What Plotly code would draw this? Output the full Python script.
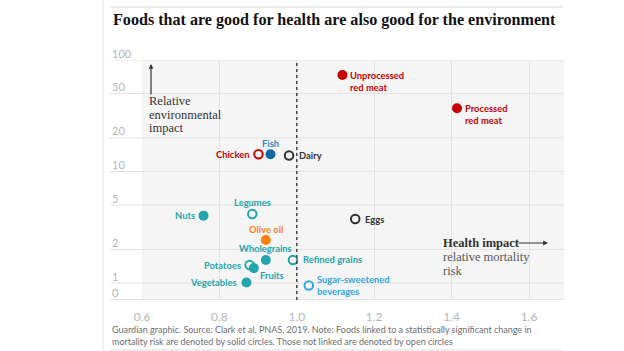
import math
import plotly.graph_objects as go

# ---- data ----
foods = ["Unprocessed<br>red meat", "Processed<br>red meat", "Chicken", "Fish", "Dairy",
         "Legumes", "Nuts", "Eggs", "Olive oil", "Wholegrains", "Refined grains",
         "Potatoes", "Fruits", "Vegetables", "Sugar-sweetened<br>beverages"]
health_risk = [1.118, 1.414, 0.901, 0.932, 0.980, 0.885, 0.759, 1.151, 0.920, 0.920, 0.990,
               0.878, 0.889, 0.870, 1.031]
env_impact = [73.4, 36.9, 14.3, 14.3, 13.9, 4.16, 4.02, 3.75, 2.43, 1.61, 1.61,
              1.45, 1.36, 1.01, 0.95]
significant = [True, True, False, True, False, False, True, False, True, True, False,
               False, True, True, False]
group = ["red", "red", "red", "fish", "grey", "teal", "teal", "grey", "orange", "teal", "teal",
         "teal", "teal", "teal", "blue"]
label_pos = ["right2", "right2", "left", "top", "right", "top", "left", "right", "top", "top",
             "right", "left", "below", "left", "rightmid"]

y_tick_vals = [100, 50, 20, 10, 5, 2, 1, 0.71]
y_tick_text = ["100", "50", "20", "10", "5", "2", "1", "0"]
x_tick_vals = [0.6, 0.8, 1.0, 1.2, 1.4, 1.6]
x_tick_text = ["0.6", "0.8", "1.0", "1.2", "1.4", "1.6"]

# ---- styles ----
colors = {"red": "#c70000", "fish": "#0a6aa1", "grey": "#333333", "teal": "#22a5ad",
          "orange": "#ff7f0f", "blue": "#2ea7df"}
label_colors = {"red": "#c70000", "fish": "#2f86bb", "grey": "#333333", "teal": "#22a5ad",
                "orange": "#ff7f0f", "blue": "#2ea7df"}

W, H = 624, 351
L, R, T, B = 142, 60, 60, 51
PW, PH = W - L - R, H - T - B


def xp(px):
    return (px - L) / PW


def yp(py):
    return (T + PH - py) / PH


fig = go.Figure()

mcol = [colors[g] for g in group]
fill = [c if s else "rgba(0,0,0,0)" for c, s in zip(mcol, significant)]
sizes = [10 if s else 8.5 for s in significant]
lw = [0 if s else 2 for s in significant]

fig.add_trace(go.Scatter(
    x=health_risk, y=env_impact, mode="markers",
    marker=dict(color=fill, size=sizes, opacity=1, line=dict(color=mcol, width=lw)),
    hoverinfo="skip", showlegend=False,
))

lab_font = "Lato"
for name, x, y, g, pos in zip(foods, health_risk, env_impact, group, label_pos):
    a = dict(x=x, y=math.log10(y), xref="x", yref="y", text=name, showarrow=False,
             font=dict(family=lab_font, size=9.4, color=label_colors[g], weight="bold"),
             align="left")
    if pos == "right":
        a.update(xanchor="left", yanchor="middle", xshift=8)
    elif pos == "right2":
        a.update(xanchor="left", yanchor="top", xshift=6, yshift=7)
    elif pos == "rightmid":
        a.update(xanchor="left", yanchor="middle", xshift=6)
    elif pos == "left":
        a.update(xanchor="right", yanchor="middle", xshift=-7, align="right")
    elif pos == "top":
        a.update(xanchor="center", yanchor="middle", yshift=11)
    elif pos == "below":
        a.update(xanchor="left", yanchor="middle", xshift=4, yshift=-7)
    fig.add_annotation(**a)

shapes = []
# horizontal gridlines (extending left past the panel)
for v in y_tick_vals:
    shapes.append(dict(type="line", xref="paper", yref="y", x0=xp(110), x1=1, y0=v, y1=v,
                       line=dict(color="#e2e2e2", width=1), layer="below"))
# dotted reference line at 1.0
shapes.append(dict(type="line", xref="x", yref="paper", x0=1.0, x1=1.0, y0=0, y1=yp(62),
                   line=dict(color="#444444", width=1.5, dash="dot")))
# frame lines
shapes.append(dict(type="line", xref="paper", yref="paper", x0=xp(110), x1=xp(563),
                   y0=yp(7), y1=yp(7), line=dict(color="#dcdcdc", width=1)))
shapes.append(dict(type="line", xref="paper", yref="paper", x0=xp(110), x1=xp(563),
                   y0=yp(350), y1=yp(350), line=dict(color="#dcdcdc", width=1)))
shapes.append(dict(type="line", xref="paper", yref="paper", x0=xp(103), x1=xp(103),
                   y0=yp(0), y1=yp(351), line=dict(color="#e2e2e2", width=1)))

# y tick labels above gridlines
for v, t in zip(y_tick_vals, y_tick_text):
    fig.add_annotation(x=xp(110), y=math.log10(v), xref="paper", yref="y", text=t,
                       showarrow=False, xanchor="left", yanchor="middle", yshift=7,
                       font=dict(family="Lato", size=11, color="#b5b5b5"))

serif = "Liberation Serif"
# y axis title with arrow
fig.add_annotation(x=xp(151), y=yp(64), xref="paper", yref="paper", ax=0, ay=32,
                   axref="pixel", ayref="pixel", text="", showarrow=True, arrowhead=2,
                   arrowsize=0.8, arrowwidth=1.2, arrowcolor="#333333")
for i, t in enumerate(["Relative", "environmental", "impact"]):
    fig.add_annotation(x=xp(147), y=yp(101 + 13.5 * i), xref="paper", yref="paper", text=t,
                       showarrow=False, xanchor="left", yanchor="middle",
                       font=dict(family=serif, size=12.5, color="#333333"))
# x axis title with arrow
fig.add_annotation(x=xp(548), y=yp(243), xref="paper", yref="paper", ax=-31, ay=0,
                   axref="pixel", ayref="pixel", text="", showarrow=True, arrowhead=2,
                   arrowsize=0.8, arrowwidth=1.2, arrowcolor="#333333")
fig.add_annotation(x=xp(441), y=yp(243), xref="paper", yref="paper", text="<b>Health impact</b>",
                   showarrow=False, xanchor="left", yanchor="middle",
                   font=dict(family=serif, size=12.5, color="#333333"))
for i, t in enumerate(["relative mortality", "risk"]):
    fig.add_annotation(x=xp(441), y=yp(257 + 13.5 * i), xref="paper", yref="paper", text=t,
                       showarrow=False, xanchor="left", yanchor="middle",
                       font=dict(family=serif, size=12.5, color="#555555"))

# title
fig.add_annotation(x=xp(111), y=yp(20), xref="paper", yref="paper",
                   text="<b>Foods that are good for health are also good for the environment</b>",
                   showarrow=False, xanchor="left", yanchor="middle",
                   font=dict(family=serif, size=16.1, color="#121212"))
# footer
foot = ["Guardian graphic. Source: Clark et al, PNAS, 2019. Note: Foods linked to a statistically significant change in",
        "mortality risk are denoted by solid circles. Those not linked are denoted by open circles"]
for i, t in enumerate(foot):
    fig.add_annotation(x=xp(110), y=yp(329 + 12 * i), xref="paper", yref="paper", text=t,
                       showarrow=False, xanchor="left", yanchor="middle",
                       font=dict(family="Lato", size=9, color="#6e6e6e"))

fig.update_layout(
    width=W, height=H, margin=dict(l=L, r=R, t=T, b=B),
    paper_bgcolor="white", plot_bgcolor="#f5f5f5",
    shapes=shapes,
    xaxis=dict(range=[0.6, 0.6 + PW / 387.0], tickvals=x_tick_vals, ticktext=x_tick_text,
               showgrid=True, gridcolor="#e2e2e2", gridwidth=1, zeroline=False,
               showline=False, ticks="", ticklabelstandoff=8,
               tickfont=dict(family="Lato", size=12, color="#b5b5b5"), fixedrange=True),
    yaxis=dict(type="log", range=[2 - PH / 111.5, 2], showgrid=False, zeroline=False,
               showticklabels=False, showline=False, ticks="", fixedrange=True),
)

fig.write_html("out.html")
